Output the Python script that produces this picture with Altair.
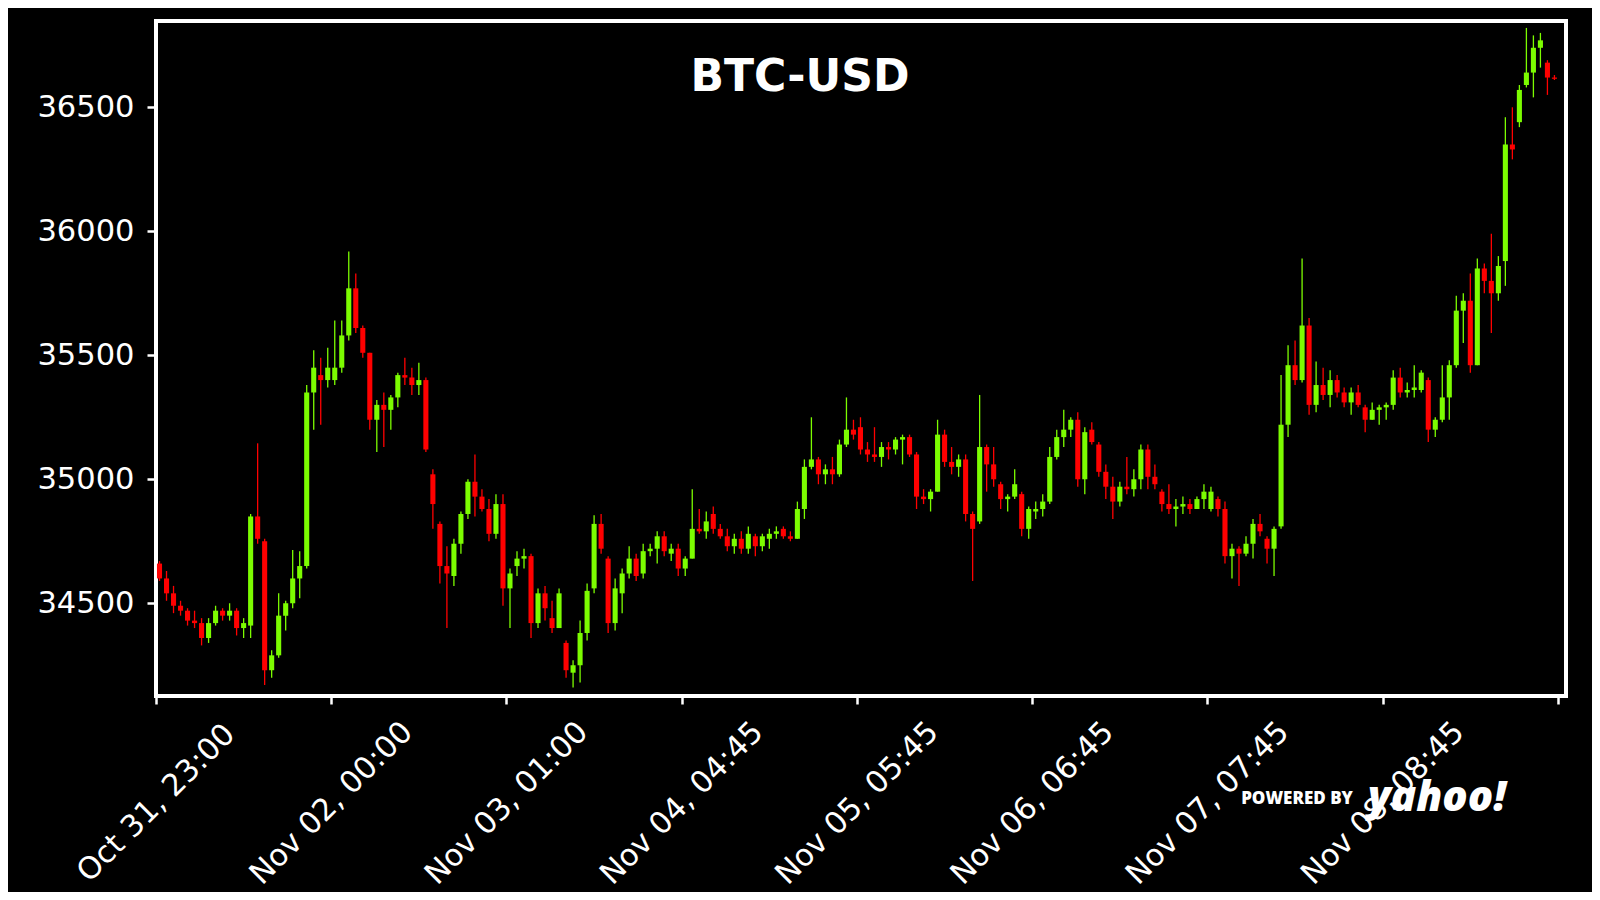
import altair as alt
import pandas as pd

# ---- data (hourly-style aggregation of the candles) ----
opens = [34660, 34600, 34540, 34490, 34470, 34430, 34420, 34360, 34420, 34470,
         34450, 34470, 34400, 34410, 34850, 34750, 34230, 34290, 34450, 34500,
         34600, 34650, 35350, 35420, 35400, 35400, 35450, 35580, 35770, 35610,
         35510, 35240, 35300, 35280, 35330, 35420, 35410, 35380, 35400, 35020,
         34820, 34650, 34610, 34740, 34860, 34990, 34930, 34880, 34780, 34900,
         34560, 34650, 34680, 34690, 34420, 34540, 34440, 34400, 34340, 34220,
         34250, 34380, 34560, 34820, 34680, 34420, 34540, 34620, 34680, 34620,
         34710, 34720, 34770, 34700, 34720, 34640, 34680, 34800, 34790, 34860,
         34800, 34770, 34730, 34760, 34720, 34770, 34730, 34760, 34780, 34800,
         34770, 34760, 34880, 35050, 35080, 35020, 35040, 35020, 35140, 35200,
         35210, 35120, 35100, 35090, 35130, 35120, 35160, 35170, 35100, 34930,
         34920, 34950, 35180, 35070, 35050, 35080, 34860, 34830, 35130, 35060,
         34980, 34920, 34930, 34940, 34800, 34870, 34880, 34910, 35090, 35170,
         35200, 35240, 35000, 35200, 35140, 35030, 34970, 34910, 34970, 34960,
         35000, 35120, 35010, 34950, 34900, 34880, 34890, 34900, 34880, 34920,
         34880, 34920, 34880, 34690, 34720, 34700, 34740, 34820, 34760, 34720,
         34810, 35220, 35460, 35400, 35620, 35300, 35380, 35340, 35400, 35350,
         35310, 35350, 35290, 35240, 35280, 35290, 35300, 35410, 35350, 35360,
         35360, 35400, 35200, 35240, 35330, 35460, 35680, 35720, 35460, 35850,
         35800, 35750, 35880, 36350, 36440, 36590, 36640, 36740, 36680, 36620]
highs = [34670, 34630, 34570, 34510, 34480, 34470, 34440, 34440, 34490, 34480,
         34500, 34480, 34440, 34860, 35145, 34760, 34310, 34540, 34510, 34715,
         34710, 35380, 35520, 35490, 35530, 35640, 35640, 35918, 35830, 35620,
         35510, 35320, 35350, 35340, 35430, 35490, 35450, 35470, 35410, 35040,
         34830, 34730, 34760, 34870, 35000, 35100, 34960, 34920, 34940, 34940,
         34640, 34710, 34720, 34700, 34560, 34570, 34510, 34560, 34350, 34270,
         34430, 34580, 34855, 34860, 34690, 34600, 34640, 34730, 34700, 34740,
         34740, 34790, 34790, 34740, 34740, 34690, 34960, 34880, 34870, 34890,
         34820, 34800, 34780, 34790, 34810, 34780, 34780, 34800, 34810, 34810,
         34790, 34910, 35080, 35250, 35090, 35060, 35090, 35160, 35330, 35240,
         35250, 35150, 35210, 35150, 35150, 35170, 35180, 35180, 35110, 34960,
         34960, 35240, 35200, 35130, 35100, 35100, 34870, 35340, 35140, 35130,
         34990, 34940, 35040, 34950, 34890, 34910, 34940, 35130, 35200, 35280,
         35250, 35270, 35210, 35230, 35150, 35060, 35010, 34990, 35090, 35040,
         35140, 35140, 35060, 34960, 34980, 34920, 34930, 34920, 34930, 34980,
         34970, 34930, 34910, 34740, 34730, 34770, 34840, 34860, 34770, 34810,
         35420, 35540, 35560, 35890, 35650, 35475, 35450, 35440, 35420, 35370,
         35370, 35380, 35300, 35310, 35300, 35310, 35440, 35450, 35390, 35460,
         35440, 35410, 35250, 35460, 35480, 35740, 35750, 35830, 35890, 35870,
         35990, 35900, 36460, 36500, 36590, 36820, 36790, 36800, 36690, 36630]
lows = [34590, 34510, 34460, 34450, 34410, 34400, 34330, 34340, 34410, 34430,
        34430, 34370, 34360, 34360, 34740, 34170, 34200, 34280, 34390, 34480,
        34520, 34640, 35200, 35220, 35370, 35380, 35430, 35560, 35590, 35490,
        35200, 35110, 35130, 35200, 35290, 35380, 35340, 35340, 35110, 34800,
        34580, 34400, 34570, 34700, 34840, 34850, 34870, 34750, 34760, 34490,
        34400, 34610, 34640, 34360, 34400, 34430, 34380, 34400, 34200, 34160,
        34180, 34350, 34540, 34700, 34380, 34390, 34460, 34600, 34590, 34600,
        34690, 34660, 34690, 34670, 34610, 34610, 34680, 34780, 34760, 34780,
        34760, 34710, 34700, 34700, 34700, 34690, 34710, 34720, 34760, 34760,
        34750, 34760, 34840, 35040, 34980, 34980, 34980, 35010, 35130, 35160,
        35100, 35070, 35070, 35050, 35080, 35100, 35060, 35090, 34880, 34900,
        34870, 34950, 35050, 35020, 35010, 34830, 34590, 34820, 34950, 34970,
        34880, 34870, 34920, 34770, 34760, 34840, 34850, 34900, 35080, 35130,
        35170, 34970, 34940, 35140, 35010, 34920, 34840, 34890, 34940, 34930,
        34960, 34960, 34960, 34870, 34860, 34810, 34860, 34860, 34880, 34880,
        34870, 34850, 34660, 34600, 34570, 34690, 34680, 34770, 34660, 34610,
        34800, 35170, 35380, 35390, 35260, 35270, 35320, 35290, 35330, 35290,
        35260, 35290, 35190, 35240, 35220, 35240, 35280, 35330, 35330, 35330,
        35350, 35150, 35170, 35230, 35240, 35450, 35550, 35430, 35460, 35750,
        35590, 35720, 35780, 36290, 36420, 36580, 36540, 36660, 36550, 36610]
closes = [34600, 34540, 34490, 34470, 34430, 34420, 34360, 34420, 34470, 34450,
          34470, 34400, 34420, 34850, 34760, 34230, 34290, 34450, 34500, 34600,
          34650, 35350, 35450, 35400, 35450, 35450, 35580, 35770, 35610, 35510,
          35240, 35300, 35280, 35330, 35420, 35410, 35380, 35400, 35120, 34900,
          34650, 34620, 34740, 34860, 34990, 34930, 34880, 34780, 34900, 34560,
          34620, 34680, 34690, 34420, 34540, 34480, 34400, 34540, 34230, 34250,
          34380, 34550, 34820, 34720, 34420, 34560, 34620, 34680, 34610, 34710,
          34720, 34770, 34710, 34720, 34640, 34680, 34800, 34790, 34830, 34800,
          34770, 34730, 34760, 34720, 34780, 34730, 34770, 34780, 34790, 34770,
          34760, 34880, 35050, 35080, 35020, 35040, 35020, 35140, 35200, 35180,
          35120, 35100, 35090, 35130, 35120, 35160, 35170, 35100, 34930, 34920,
          34950, 35180, 35070, 35050, 35080, 34860, 34800, 35130, 35060, 35000,
          34920, 34930, 34980, 34800, 34880, 34880, 34910, 35090, 35170, 35200,
          35240, 35000, 35190, 35150, 35030, 34970, 34910, 34970, 34960, 35000,
          35120, 35010, 34980, 34900, 34880, 34890, 34900, 34880, 34920, 34950,
          34950, 34880, 34690, 34720, 34700, 34740, 34820, 34790, 34720, 34800,
          35220, 35460, 35400, 35620, 35300, 35380, 35340, 35400, 35350, 35310,
          35350, 35300, 35240, 35280, 35290, 35300, 35410, 35350, 35360, 35370,
          35430, 35200, 35240, 35330, 35460, 35680, 35720, 35460, 35850, 35800,
          35750, 35860, 36350, 36330, 36570, 36640, 36740, 36770, 36620, 36615]

tick_labels = ["Oct 31, 23:00", "Nov 02, 00:00", "Nov 03, 01:00", "Nov 04, 04:45",
               "Nov 05, 05:45", "Nov 06, 06:45", "Nov 07, 07:45", "Nov 08, 08:45", ""]
y_ticks = [34500, 35000, 35500, 36000, 36500]
title_text = "BTC-USD"

# ---- table ----
n = len(opens)
df = pd.DataFrame({
    "open": opens, "high": highs, "low": lows, "close": closes,
})
df["idx"] = [4 * k + 2 for k in range(n)]
df["x0"] = df["idx"] - 1.45
df["x1"] = df["idx"] + 1.45
df["dir"] = ["up" if c >= o else "down" for o, c in zip(opens, closes)]

tick_values = [100 * i for i in range(len(tick_labels))]
expr = "''"
for v, lab in reversed(list(zip(tick_values, tick_labels))):
    expr = f"datum.value == {v} ? '{lab}' : ({expr})"

FONT = "DejaVu Sans"
x_scale = alt.Scale(domain=[0, 804.6], nice=False, zero=False)
y_scale = alt.Scale(domain=[34126, 36848], nice=False, zero=False)
color_scale = alt.Scale(domain=["up", "down"], range=["#7CFC00", "#FF0000"])

x_axis = alt.Axis(values=tick_values, labelExpr=expr, labelAngle=-45,
                  labelAlign="center", labelBaseline="middle", labelPadding=99,
                  labelFontSize=30.5, labelFont=FONT, labelColor="white", labelLimit=0,
                  tickColor="white", tickSize=8, tickWidth=2.5,
                  domain=False, grid=False, title=None,
                  labelOverlap=False, labelFlush=False, labelBound=False)
y_axis = alt.Axis(values=y_ticks, format="d", labelFontSize=30.5, labelFont=FONT,
                  labelColor="white", tickColor="white", tickSize=9, tickWidth=2.5,
                  labelPadding=13, domain=False, grid=False, title=None)

base = alt.Chart(df)
wicks = base.mark_rule(strokeWidth=1.3).encode(
    x=alt.X("idx:Q", scale=x_scale, axis=x_axis),
    y=alt.Y("low:Q", scale=y_scale, axis=y_axis),
    y2="high:Q",
    color=alt.Color("dir:N", scale=color_scale, legend=None),
)
bodies = base.mark_bar().encode(
    x="x0:Q", x2="x1:Q",
    y="open:Q", y2="close:Q",
    color=alt.Color("dir:N", scale=color_scale, legend=None),
)

title = alt.Chart(pd.DataFrame({"t": [title_text]})).mark_text(
    font=FONT, fontSize=44, fontWeight="bold", color="white",
    align="center", baseline="middle",
).encode(x=alt.value(644), y=alt.value(57), text="t:N")

powered = alt.Chart(pd.DataFrame({"t": ["POWERED BY"]})).mark_text(
    font="Open Sans", fontSize=17, fontWeight=800, color="white",
    align="center", baseline="middle",
).encode(x=alt.value(1141), y=alt.value(778), text="t:N")

yahoo = alt.Chart(pd.DataFrame({"t": ["yahoo!"]})).mark_text(
    font="Open Sans", fontSize=42, fontWeight=800, fontStyle="italic", color="white",
    align="center", baseline="alphabetic",
).encode(x=alt.value(1281), y=alt.value(790), text="t:N")

chart = alt.layer(wicks, bodies, title, powered, yahoo).properties(
    width=1410, height=675,
    autosize=alt.AutoSizeParams(type="none"),
    padding={"left": 148, "top": 13, "right": 26, "bottom": 196},
    background="black",
).configure_view(stroke="white", strokeWidth=4, fill="black")

chart.save("out.html", embed_options={"renderer": "svg", "actions": False})
